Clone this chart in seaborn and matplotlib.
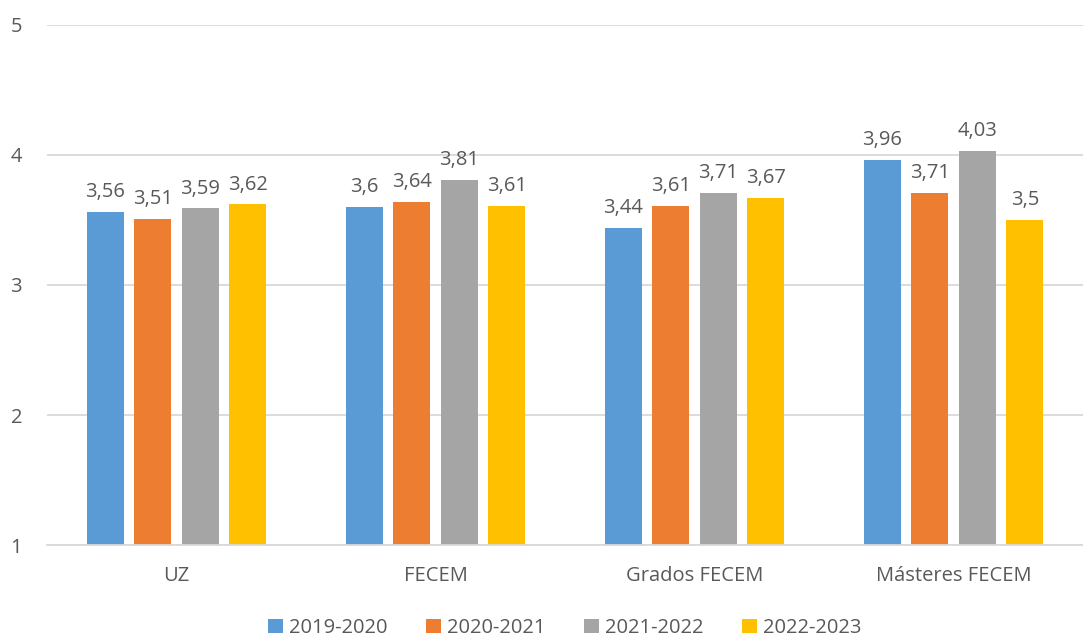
import pandas as pd
import matplotlib.pyplot as plt
import seaborn as sns

categories = ['UZ', 'FECEM', 'Grados FECEM', 'Másteres FECEM']
years = ['2019-2020', '2020-2021', '2021-2022', '2022-2023']
v_2019 = [3.56, 3.60, 3.44, 3.96]
v_2020 = [3.51, 3.64, 3.61, 3.71]
v_2021 = [3.59, 3.81, 3.71, 4.03]
v_2022 = [3.62, 3.61, 3.67, 3.50]
colors = ['#5B9BD5', '#ED7D31', '#A5A5A5', '#FFC000']

rows = []
for year, vals in zip(years, [v_2019, v_2020, v_2021, v_2022]):
    for cat, v in zip(categories, vals):
        rows.append({'cat': cat, 'year': year, 'val': v})
df = pd.DataFrame(rows)

sns.set_theme(style="white")
plt.rcParams['font.family'] = ['Open Sans', 'DejaVu Sans']
text_color = '#595959'

fig = plt.figure(figsize=(10.83, 6.37), dpi=100)
ax = fig.add_axes([0.0434, 0.1444, 0.9566, 0.8164])

sns.barplot(data=df, x='cat', y='val', hue='year', palette=colors,
            width=0.735, gap=0.22, ax=ax, legend=True, saturation=1,
            linewidth=0)

ax.set_ylim(1, 5)
ax.set_yticks([1, 2, 3, 4, 5])
ax.set_xlim(-0.5, 3.5)
ax.yaxis.grid(True, color='#D9D9D9', linewidth=1.3)
ax.set_axisbelow(True)
for s in ['left', 'right', 'top']:
    ax.spines[s].set_visible(False)
ax.spines['bottom'].set_color('#D9D9D9')
ax.spines['bottom'].set_linewidth(1.3)
ax.tick_params(axis='both', length=0, labelsize=14.5, colors=text_color)
ax.tick_params(axis='x', pad=15)
ax.tick_params(axis='y', pad=18)
ax.set_xlabel('')
ax.set_ylabel('')

for cont, vals in zip(ax.containers, [v_2019, v_2020, v_2021, v_2022]):
    labels = [f'{v:g}'.replace('.', ',') for v in vals]
    ax.bar_label(cont, labels=labels, padding=7, fontsize=14.5, color=text_color)

ax.legend(loc='upper center', bbox_to_anchor=(0.5, -0.125), ncol=4, frameon=False,
          fontsize=14.5, labelcolor=text_color, handlelength=0.75, handleheight=0.75,
          handletextpad=0.3, columnspacing=1.9, borderaxespad=0)

fig.savefig('out.png', dpi=100)
